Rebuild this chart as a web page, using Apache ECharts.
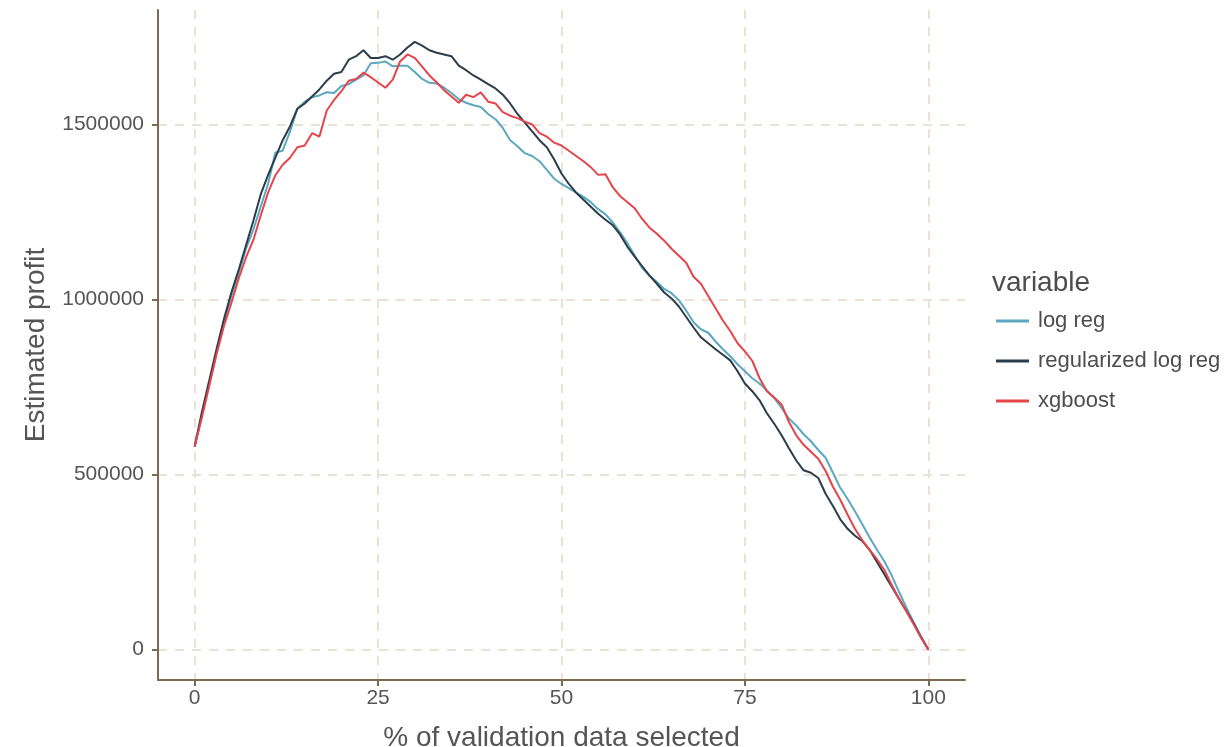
<!DOCTYPE html>
<html>
<head>
<meta charset="utf-8">
<script src="https://cdn.jsdelivr.net/npm/echarts@6/dist/echarts.min.js"></script>
<style>html,body{margin:0;padding:0;background:#fff;}#chart{width:1227px;height:747px;}</style>
</head>
<body>
<div id="chart"></div>
<script>
// % of validation data selected (0..100 step 1)
const xValues = Array.from({length: 101}, (_, i) => i);
const xTicks = [0, 25, 50, 75, 100];
const yTicks = [0, 500000, 1000000, 1500000];
const seriesNames = ['log reg', 'regularized log reg', 'xgboost'];

const logReg = [
  580000, 670000, 760000, 850000, 935000, 1010000, 1075000, 1145000, 1200000, 1265000,
  1330000, 1420000, 1425000, 1480000, 1545000, 1565000, 1578000, 1583000, 1592000, 1590000,
  1610000, 1615000, 1628000, 1640000, 1675000, 1676000, 1680000, 1666000, 1668000, 1668000,
  1650000, 1630000, 1619000, 1617000, 1605000, 1590000, 1572000, 1562000, 1555000, 1550000,
  1530000, 1515000, 1490000, 1455000, 1438000, 1418000, 1410000, 1395000, 1370000, 1345000,
  1330000, 1318000, 1305000, 1293000, 1278000, 1258000, 1243000, 1220000, 1192000, 1160000,
  1125000, 1090000, 1068000, 1050000, 1030000, 1018000, 998000, 968000, 935000, 915000,
  905000, 880000, 858000, 838000, 815000, 795000, 775000, 760000, 740000, 718000,
  690000, 660000, 640000, 615000, 595000, 570000, 548000, 505000, 462000, 430000,
  395000, 358000, 320000, 285000, 252000, 212000, 165000, 120000, 78000, 38000, 0
];
const regLogReg = [
  580000, 680000, 770000, 860000, 945000, 1020000, 1085000, 1155000, 1225000, 1300000,
  1355000, 1405000, 1455000, 1495000, 1545000, 1560000, 1580000, 1600000, 1625000, 1645000,
  1650000, 1685000, 1695000, 1712000, 1690000, 1690000, 1695000, 1685000, 1700000, 1720000,
  1736000, 1725000, 1712000, 1705000, 1700000, 1695000, 1668000, 1655000, 1640000, 1628000,
  1615000, 1603000, 1585000, 1560000, 1530000, 1505000, 1480000, 1455000, 1435000, 1400000,
  1360000, 1330000, 1305000, 1285000, 1265000, 1245000, 1228000, 1212000, 1185000, 1150000,
  1122000, 1095000, 1068000, 1045000, 1020000, 1003000, 980000, 950000, 920000, 892000,
  875000, 858000, 842000, 826000, 795000, 760000, 738000, 712000, 675000, 645000,
  612000, 575000, 540000, 512000, 505000, 490000, 445000, 410000, 372000, 345000,
  325000, 310000, 285000, 250000, 215000, 180000, 145000, 110000, 75000, 35000, 0
];
const xgboost = [
  580000, 665000, 755000, 845000, 925000, 990000, 1060000, 1120000, 1170000, 1240000,
  1305000, 1355000, 1385000, 1405000, 1435000, 1440000, 1475000, 1465000, 1540000, 1570000,
  1595000, 1625000, 1630000, 1648000, 1635000, 1620000, 1605000, 1628000, 1680000, 1700000,
  1690000, 1665000, 1640000, 1620000, 1598000, 1580000, 1562000, 1585000, 1578000, 1592000,
  1565000, 1560000, 1535000, 1525000, 1518000, 1508000, 1500000, 1475000, 1465000, 1448000,
  1440000, 1425000, 1410000, 1395000, 1378000, 1356000, 1358000, 1320000, 1295000, 1278000,
  1260000, 1230000, 1205000, 1188000, 1168000, 1145000, 1125000, 1105000, 1065000, 1045000,
  1010000, 975000, 940000, 910000, 875000, 852000, 825000, 775000, 738000, 720000,
  700000, 650000, 612000, 585000, 565000, 545000, 510000, 465000, 428000, 385000,
  345000, 312000, 285000, 258000, 228000, 185000, 145000, 110000, 72000, 35000, 0
];

const colors = ['#5ba8c0', '#2b3d4a', '#e5444a'];
const axisColor = '#7d6a52';
const gridColor = '#ebe2d6';
const textColor = '#555555';
const font = 'Liberation Sans, Arial, sans-serif';

const chart = echarts.init(document.getElementById('chart'), null, {renderer: 'canvas'});
const allData = [logReg, regLogReg, xgboost];
chart.setOption({
  animation: false,
  color: colors,
  textStyle: {fontFamily: font},
  grid: {left: 158, right: 262, top: 10, bottom: 67, containLabel: false, outerBoundsMode: 'none'},
  title: {
    text: 'variable', left: 987, top: 264,
    textStyle: {fontFamily: font, fontSize: 28, fontWeight: 'normal', color: '#4d4d4d'}
  },
  legend: {
    data: seriesNames, orient: 'vertical', left: 991, top: 305,
    itemWidth: 33, itemHeight: 3, itemGap: 18, icon: 'rect',
    textStyle: {fontFamily: font, fontSize: 22, color: '#4d4d4d', padding: [0, 0, 0, 4]}
  },
  xAxis: {
    type: 'value', min: -5, max: 105,
    name: '% of validation data selected', nameLocation: 'middle', nameGap: 44,
    nameTextStyle: {fontFamily: font, fontSize: 28, color: textColor},
    axisLine: {show: true, onZero: false, lineStyle: {color: axisColor, width: 2}},
    axisTick: {show: true, length: 6, lineStyle: {color: axisColor, width: 2}, customValues: xTicks},
    axisLabel: {fontFamily: font, fontSize: 21, color: textColor, margin: 8, customValues: xTicks,
      formatter: v => String(v)},
    splitLine: {show: true, lineStyle: {color: gridColor, width: 2, type: [9, 8]}}
  },
  yAxis: {
    type: 'value', min: -87000, max: 1827000,
    name: 'Estimated profit', nameLocation: 'middle', nameGap: 108, nameRotate: 90,
    nameTextStyle: {fontFamily: font, fontSize: 28, color: textColor},
    axisLine: {show: true, onZero: false, lineStyle: {color: axisColor, width: 2}},
    axisTick: {show: true, length: 6, lineStyle: {color: axisColor, width: 2}, customValues: yTicks},
    axisLabel: {fontFamily: font, fontSize: 21, color: textColor, margin: 14, customValues: yTicks,
      formatter: v => String(v)},
    splitLine: {show: true, lineStyle: {color: gridColor, width: 2, type: [9, 8]}}
  },
  series: seriesNames.map((name, k) => ({
    name: name, type: 'line', showSymbol: false, symbol: 'none',
    data: xValues.map((x, i) => [x, allData[k][i]]),
    lineStyle: {width: 2, color: colors[k]},
    z: 2 + k
  }))
});
</script>
</body>
</html>
